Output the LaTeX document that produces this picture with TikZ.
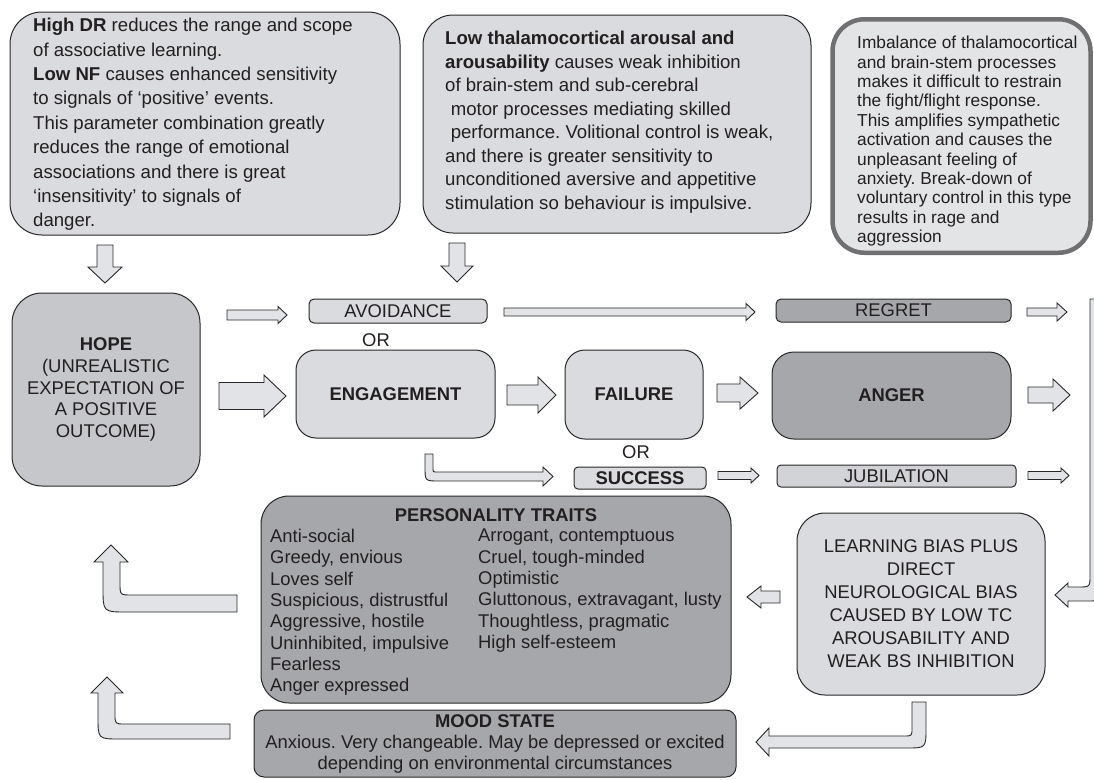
\documentclass[tikz,border=0pt]{standalone}
\usepackage{fontspec}
\setmainfont{Liberation Sans}
\frenchspacing

\definecolor{ink}{RGB}{35,31,32}
\definecolor{edge}{RGB}{40,40,42}
\definecolor{boxlight}{RGB}{218,219,222}
\definecolor{boxmid}{RGB}{198,199,202}
\definecolor{boxdark}{RGB}{166,167,170}
\definecolor{boxjub}{RGB}{210,211,214}
\definecolor{boxpale}{RGB}{227,228,230}
\definecolor{rimgrey}{RGB}{112,112,114}
\definecolor{arrowfill}{RGB}{226,227,230}

\tikzset{
  box/.style={draw=edge, line width=1pt, rounded corners=#1, inner sep=0pt, align=center},
  box/.default=5,
  blockarrow/.style={draw=edge, fill=arrowfill, line width=0.9pt, line join=miter},
}

% block arrows: tail x, tip x, middle y, half shaft, half head, head length
\newcommand{\rightblock}[6]{%
  \draw[blockarrow] (#1,#3-#4) -- (#2-#6,#3-#4) -- (#2-#6,#3-#5) -- (#2,#3)
    -- (#2-#6,#3+#5) -- (#2-#6,#3+#4) -- (#1,#3+#4) -- cycle;}
\newcommand{\leftblock}[6]{%
  \draw[blockarrow] (#2,#3-#4) -- (#1+#6,#3-#4) -- (#1+#6,#3-#5) -- (#1,#3)
    -- (#1+#6,#3+#5) -- (#1+#6,#3+#4) -- (#2,#3+#4) -- cycle;}
\newcommand{\downblock}[6]{%
  \draw[blockarrow] (#1-#4,#2) -- (#1-#4,#3-#6) -- (#1-#5,#3-#6) -- (#1,#3)
    -- (#1+#5,#3-#6) -- (#1+#4,#3-#6) -- (#1+#4,#2) -- cycle;}

\begin{document}
\begin{tikzpicture}[x=1pt, y=-1pt,
    every node/.style={text=ink, font=\fontsize{18.4}{21.3}\selectfont}]
  \useasboundingbox (0,0) rectangle (1094,779);

  % top row
  \node[box=32, fill=boxlight, minimum width=390, minimum height=223] (dr) at (205,123.5) {};
  \node[anchor=north west, align=left, inner sep=0pt,
        font=\fontsize{18.6}{24.4}\selectfont] (drtext) at (33,18) {%
    \textbf{High DR} reduces the range and scope\\
    of associative learning.\\
    \textbf{Low NF} causes enhanced sensitivity\\
    to signals of `positive' events.\\
    This parameter combination greatly\\
    reduces the range of emotional\\
    associations and there is great\\
    `insensitivity' to signals of\\
    danger.};

  \node[box=30, fill=boxlight, minimum width=388, minimum height=218] (tc) at (617,124) {};
  \node[anchor=north west, align=left, inner sep=0pt,
        font=\fontsize{18.6}{23.5}\selectfont] (tctext) at (445,31) {%
    \textbf{Low thalamocortical arousal and}\\
    \textbf{arousability} causes weak inhibition\\
    of brain-stem and sub-cerebral\\
    \hspace*{0.3em}motor processes mediating skilled\\
    \hspace*{0.3em}performance. Volitional control is weak,\\
    and there is greater sensitivity to\\
    unconditioned aversive and appetitive\\
    stimulation so behaviour is impulsive.};

  \node[box=32, draw=rimgrey, line width=4.5pt, fill=boxpale,
        minimum width=258, minimum height=233.5] (imb) at (961.5,136) {};
  \node[anchor=north west, align=left, inner sep=0pt,
        font=\fontsize{17.3}{19.4}\selectfont] (imbtext) at (857,36) {%
    Imbalance of thalamocortical\\
    and brain-stem processes\\
    makes it difficult to restrain\\
    the fight/flight response.\\
    This amplifies sympathetic\\
    activation and causes the\\
    unpleasant feeling of\\
    anxiety. Break-down of\\
    voluntary control in this type\\
    results in rage and\\
    aggression};

  \downblock{105}{245}{283}{8}{17}{16}
  \downblock{457}{243}{282}{8}{16}{16}

  % middle rows
  \node[box=30, fill=boxmid, minimum width=188, minimum height=193,
        font=\fontsize{18.4}{21.7}\selectfont] (hope) at (106,389.5)
    {\textbf{HOPE}\\(UNREALISTIC\\EXPECTATION OF\\A POSITIVE\\OUTCOME)};
  \node[box=5, fill=boxlight, minimum width=178, minimum height=24] (avoid) at (398,311) {AVOIDANCE};
  \node (or1) at (376,340) {OR};
  \node[box=20, fill=boxlight, minimum width=199, minimum height=88] (eng) at (395.5,394) {\textbf{ENGAGEMENT}};
  \node[box=20, fill=boxlight, minimum width=138, minimum height=89] (fail) at (634,394.5) {\textbf{FAILURE}};
  \node[box=22, fill=boxdark, minimum width=239, minimum height=87] (anger) at (891.5,395.5) {\textbf{ANGER}};
  \node[box=5, fill=boxdark, minimum width=235, minimum height=23] (regret) at (893.5,310.5) {REGRET};
  \node (or2) at (636,452) {OR};
  \node[box=4, fill=boxlight, minimum width=132, minimum height=22] (success) at (640,478) {\textbf{SUCCESS}};
  \node[box=4, fill=boxjub, minimum width=239, minimum height=22] (jub) at (896.5,476) {JUBILATION};

  \foreach \xa/\xb/\ym/\sh/\hh/\hl in {227/287/315/5/8.5/9, 504/755/312/4/8.5/9,
      1027/1067/312/4/9/10, 219/286/396/13.5/21/22, 507/556/395/10/18/18,
      717/758/393/9/16/18, 1028/1070/395/8/16/17, 718/759/475.5/4/7.5/8,
      1028/1069/475.5/4/7.5/8}
    \rightblock{\xa}{\xb}{\ym}{\sh}{\hh}{\hl};

  \draw[blockarrow] (425,454) -- (433,454) -- (433,468) .. controls (433,472) .. (437,472)
    -- (543,472) -- (543,467) -- (553,476.5) -- (543,486) -- (543,481)
    -- (439,481) .. controls (425,481) .. (425,467) -- cycle;

  % lower part
  \node[box=28, fill=boxdark, minimum width=470, minimum height=207] (pers) at (496,599.5) {};
  \node[font=\fontsize{18.4}{21.3}\selectfont\bfseries] (perstitle) at (496,515) {PERSONALITY TRAITS};
  \node[anchor=north west, align=left, inner sep=0pt] (traitsa) at (270,529) {%
    Anti-social\\ Greedy, envious\\ Loves self\\ Suspicious, distrustful\\
    Aggressive, hostile\\ Uninhibited, impulsive\\ Fearless\\ Anger expressed};
  \node[anchor=north west, align=left, inner sep=0pt] (traitsb) at (478,529) {%
    Arrogant, contemptuous\\ Cruel, tough-minded\\ Optimistic\\
    Gluttonous, extravagant, lusty\\ Thoughtless, pragmatic\\ High self-esteem};

  \node[box=28, fill=boxlight, minimum width=248, minimum height=182,
        font=\fontsize{18.4}{23}\selectfont] (learn) at (921,604)
    {LEARNING BIAS PLUS\\DIRECT\\NEUROLOGICAL BIAS\\CAUSED BY LOW TC\\AROUSABILITY AND\\WEAK BS INHIBITION};

  \node[box=10, fill=boxdark, minimum width=482, minimum height=67,
        font=\fontsize{18.4}{21}\selectfont] (mood) at (495,743.5)
    {\textbf{MOOD STATE}\\Anxious. Very changeable. May be depressed or excited\\
     depending on environmental circumstances};

  \leftblock{747}{780}{597}{6}{11}{14}

  \draw[blockarrow] (1090,299) -- (1090,575) .. controls (1090,587) .. (1078,587)
    -- (1068,587) -- (1068,583) -- (1055,595) -- (1068,607) -- (1068,601)
    -- (1086,601) .. controls (1104,601) .. (1104,583) -- (1104,299) -- cycle;

  \draw[blockarrow] (912,702) -- (926,702) -- (926,728) .. controls (926,748) .. (906,748)
    -- (769,748) -- (769,756) -- (756,742) -- (769,728) -- (769,736)
    -- (904,736) .. controls (912,736) .. (912,728) -- cycle;

  \draw[blockarrow] (237,595) -- (132,595) .. controls (120,595) .. (120,583)
    -- (120,562) -- (128,562) -- (111,545) -- (94,562) -- (103,562)
    -- (103,588) .. controls (103,612) .. (127,612) -- (237,612) -- cycle;

  \draw[blockarrow] (230,724) -- (125,724) .. controls (115,724) .. (115,714)
    -- (115,693) -- (123,693) -- (107,677) -- (91,693) -- (98,693)
    -- (98,717) .. controls (98,739) .. (120,739) -- (230,739) -- cycle;
\end{tikzpicture}
\end{document}
